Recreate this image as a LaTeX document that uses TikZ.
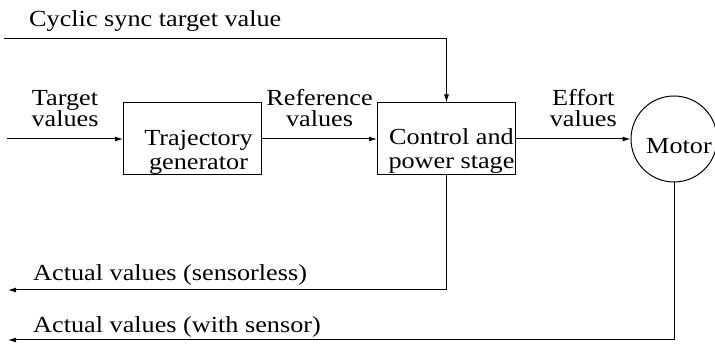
\documentclass[tikz,border=0pt]{standalone}
\usepackage{fontspec}
\setmainfont{Liberation Serif}[FakeStretch=1.14]
\usetikzlibrary{arrows.meta, positioning}

\begin{document}
\begin{tikzpicture}[x=1pt,y=1pt]
	\tikzstyle{block}=[draw,line width=1pt,minimum width=138pt,minimum height=72pt,inner sep=0pt]
	\tikzstyle{blocktext}=[align=center,inner sep=0pt,font=\fontsize{23}{24}\selectfont]
	\tikzstyle{lbl}=[align=center,inner sep=0pt,font=\fontsize{23}{21}\selectfont]
	\tikzstyle{signal}=[line width=1pt,-{Latex[length=8pt,width=5pt]}]
	\useasboundingbox (0,0) rectangle (715,345);
	% blocks
	\node (traj) [block] at (192.5,206) {};
	\node (ctrl) [block] at (446.5,206) {};
	\node (motor) [draw,circle,line width=1pt,minimum size=86pt,inner sep=0pt] at (674,206) {};
	\node (trajtext) [blocktext] at ([xshift=6pt,yshift=-13pt]traj.center) {Trajectory\\generator};
	\node (ctrltext) [blocktext] at ([xshift=5pt,yshift=-12pt]ctrl.center) {Control and\\power stage};
	\node (motortext) [blocktext] at ([xshift=5pt,yshift=-7pt]motor.center) {Motor};
	% free ends
	\coordinate (in) at (7,206);
	\coordinate (cyc) at (4,306);
	\coordinate (fbless) at (8,55);
	\coordinate (fbsens) at (8,5);
	% signals
	\draw[signal] (in) -- (traj) node[lbl,midway,above=12pt] (targetlbl) {Target\\values};
	\draw[signal] (traj) -- (ctrl) node[lbl,midway,above=12pt] (reflbl) {Reference\\values};
	\draw[signal] (ctrl) -- (motor) node[lbl,midway,above=12pt,xshift=10pt] (effortlbl) {Effort\\values};
	\draw[signal] (cyc) -| (ctrl.north);
	\draw[signal] (ctrl.south) |- (fbless);
	\draw[signal] (motor.south) |- (fbsens);
	\node (cyclbl) [lbl,anchor=base west] at (29,318) {Cyclic sync target value};
	\node (lesslbl) [lbl,anchor=base west] at (33,64) {Actual values (sensorless)};
	\node (senslbl) [lbl,anchor=base west] at (33,12) {Actual values (with sensor)};
\end{tikzpicture}
\end{document}
